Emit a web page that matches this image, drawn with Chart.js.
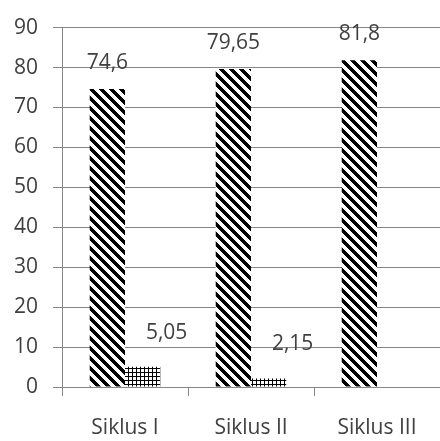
<!DOCTYPE html>
<html>
<head>
<meta charset="utf-8">
<script src="https://cdn.jsdelivr.net/npm/chart.js@4/dist/chart.umd.min.js"></script>
<style>
  html, body { margin: 0; padding: 0; background: #fff; }
  #chart { display: block; }
</style>
</head>
<body>
<canvas id="chart" width="440" height="441"></canvas>
<script>
/* ---------- Data ---------- */
var CATEGORIES = ['Siklus I', 'Siklus II', 'Siklus III'];
var SERIES_A = [74.6, 79.65, 81.8];
var SERIES_B = [5.05, 2.15, null];
var Y_MIN = 0, Y_MAX = 90, Y_STEP = 10;

var TEXT = '#404040';
var LINE = '#868686';
var FONT = "'Open Sans', sans-serif";

/* ---------- Patterns ---------- */
function makePattern(size, isInk) {
  var c = document.createElement('canvas');
  c.width = size; c.height = size;
  var g = c.getContext('2d');
  g.fillStyle = '#fff';
  g.fillRect(0, 0, size, size);
  g.fillStyle = '#000';
  for (var y = 0; y < size; y++) {
    for (var x = 0; x < size; x++) {
      if (isInk(x, y)) g.fillRect(x, y, 1, 1);
    }
  }
  return g.createPattern(c, 'repeat');
}
// wide downward diagonal for the tall bars, small grid for the short ones
var diagPattern = makePattern(10, function (x, y) { return ((x - y) % 10 + 10) % 10 < 5; });
var gridPattern = makePattern(4, function (x, y) { return x === 0 || y === 0; });

/* ---------- Value labels ---------- */
var valueLabels = {
  id: 'valueLabels',
  afterDatasetsDraw: function (chart) {
    var ctx = chart.ctx;
    ctx.save();
    ctx.font = '21px ' + FONT;
    ctx.fillStyle = TEXT;
    ctx.textAlign = 'center';
    ctx.textBaseline = 'middle';
    chart.data.datasets.forEach(function (ds, di) {
      chart.getDatasetMeta(di).data.forEach(function (bar, i) {
        var v = ds.data[i];
        if (v === null || v === undefined) return;
        var txt = String(v).replace('.', ',');
        if (di === 0) ctx.fillText(txt, bar.x, bar.y - 26);
        else ctx.fillText(txt, bar.x + 24, bar.y - 34);
      });
    });
    ctx.restore();
  }
};

/* ---------- Chart ---------- */
new Chart(document.getElementById('chart'), {
  type: 'bar',
  data: {
    labels: CATEGORIES,
    datasets: [
      { data: SERIES_A, backgroundColor: diagPattern, borderWidth: 0 },
      { data: SERIES_B, backgroundColor: gridPattern, borderWidth: 0 }
    ]
  },
  options: {
    responsive: false,
    devicePixelRatio: 1,
    animation: false,
    barPercentage: 1,
    categoryPercentage: 0.56,
    // plot area runs past the right edge, as in the cropped original
    layout: { padding: { top: 19, right: -21, bottom: 0, left: 0 } },
    plugins: { legend: { display: false }, tooltip: { enabled: false }, title: { display: false } },
    scales: {
      x: {
        offset: true,
        grid: { offset: true, drawOnChartArea: false, drawTicks: true, tickLength: 9, color: LINE },
        border: { display: true, color: LINE },
        ticks: { color: TEXT, font: { family: FONT, size: 21 }, padding: 19, maxRotation: 0, autoSkip: false },
        afterFit: function (s) { s.height = 54; }
      },
      y: {
        min: Y_MIN, max: Y_MAX,
        grid: { color: LINE, tickLength: 9 },
        border: { display: true, color: LINE },
        ticks: { stepSize: Y_STEP, color: TEXT, font: { family: FONT, size: 21 }, padding: 15 },
        afterFit: function (s) { s.width = 62; }
      }
    }
  },
  plugins: [valueLabels]
});
</script>
</body>
</html>
